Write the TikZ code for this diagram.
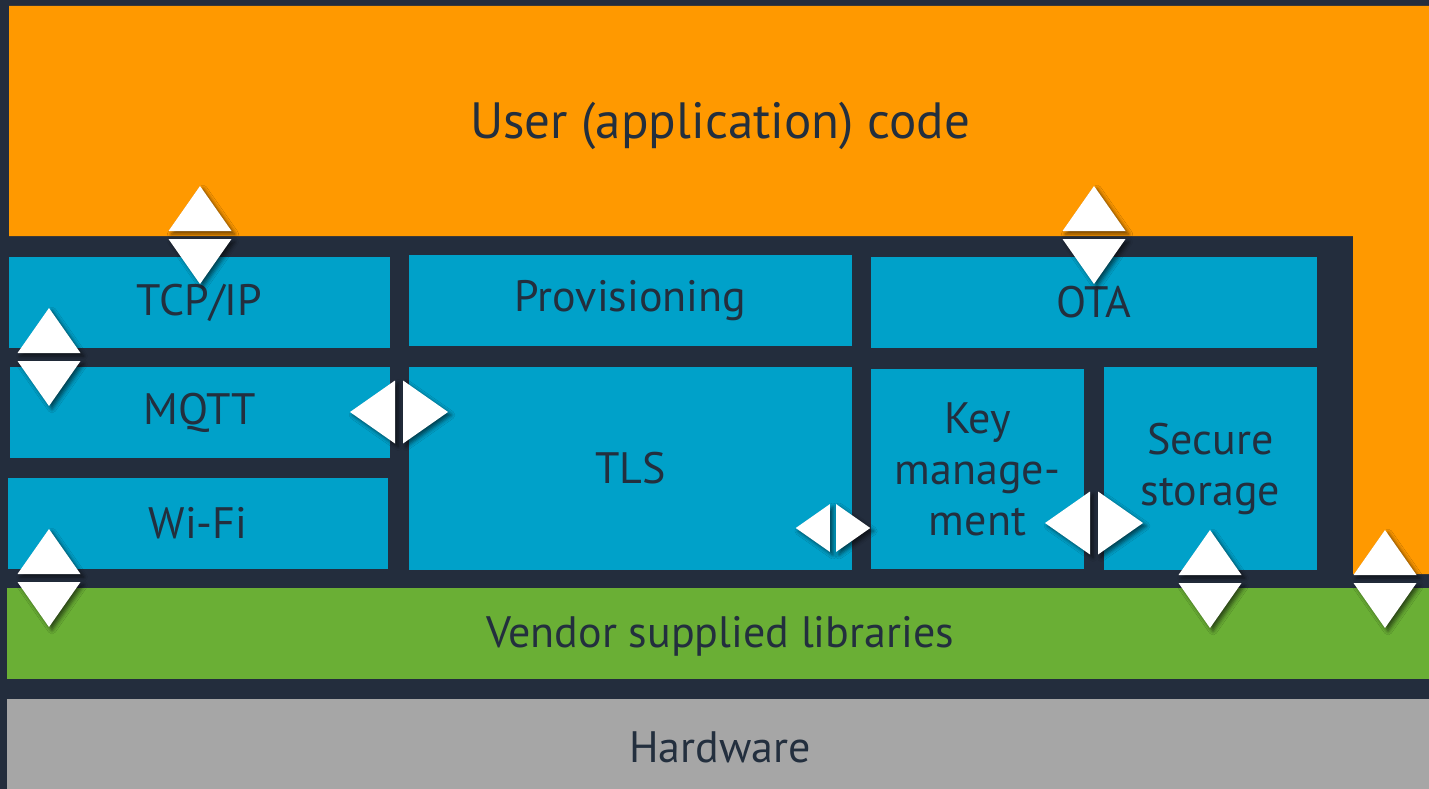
\documentclass[tikz,border=0pt]{standalone}
\usepackage{fontspec}
\setmainfont{PT Sans}
\usetikzlibrary{shadows.blur}

\definecolor{navy}{HTML}{232D3D}
\definecolor{awsorange}{HTML}{FF9900}
\definecolor{layerblue}{HTML}{00A1C9}
\definecolor{vendorgreen}{HTML}{6AAF35}
\definecolor{hwgray}{HTML}{A6A6A6}
\definecolor{ink}{HTML}{232F3E}

\tikzset{
  block/.style={fill=layerblue, draw=none, inner sep=0pt, text=ink,
    font=\fontsize{44}{51}\selectfont, align=center},
  layerlabel/.style={text=ink, inner sep=0pt, font=\fontsize{44}{51}\selectfont},
  tri/.style={fill=white, draw=none,
    blur shadow={shadow xshift=3pt, shadow yshift=-3pt,
      shadow blur radius=4pt, shadow opacity=60}},
  % a pair of triangles pointing up and down across a horizontal seam
  updown/.pic={
    \fill[tri] (-31.5,-4) -- (0,-49) -- (31.5,-4) -- cycle;
    \fill[tri] (-31.5,4) -- (31.5,4) -- (0,49) -- cycle;
  },
  % a pair of triangles pointing left and right across a vertical seam
  leftright/.pic={
    \fill[tri] (-4,-31.5) -- (-49,0) -- (-4,31.5) -- cycle;
    \fill[tri] (4,-31.5) -- (49,0) -- (4,31.5) -- cycle;
  }
}

\begin{document}
\begin{tikzpicture}[x=1pt, y=-1pt]
  % canvas
  \fill[navy] (0,0) rectangle (1429,789);
  \useasboundingbox (0,0) rectangle (1429,789);

  % application layer wrapping round the middleware
  \fill[awsorange] (9,6) -- (1429,6) -- (1429,574) -- (1353,574)
    -- (1353,236) -- (9,236) -- cycle;
  \node[text=ink, inner sep=0pt, font=\fontsize{51}{60}\selectfont]
    (user) at (720,126) {User (application) code};

  % vendor and hardware layers
  \fill[vendorgreen] (7,588) rectangle (1429,679);
  \node[layerlabel] (vendor) at (720,636) {Vendor supplied libraries};
  \fill[hwgray] (7,699) rectangle (1429,789);
  \node[layerlabel] (hw) at (720,747) {Hardware};

  % middleware blocks
  \node[block, minimum width=381pt, minimum height=91pt] (tcp)  at (199.5,302.5) {TCP/IP};
  \node[block, minimum width=380pt, minimum height=91pt] (mqtt) at (200,412.5) {MQTT};
  \node[block, minimum width=380pt, minimum height=91pt] (wifi) at (198,523.5) {Wi-Fi};
  \node[block, minimum width=443pt, minimum height=91pt] (prov) at (630.5,300.5) {Provisioning};
  \node[block, minimum width=443pt, minimum height=203pt] (tls) at (630.5,468.5) {TLS};
  \node[block, minimum width=446pt, minimum height=91pt] (ota)  at (1094,302.5) {OTA};
  \node[block, minimum width=213pt, minimum height=200pt] (key) at (977.5,469) {Key\\manage-\\ment};
  \node[block, minimum width=213pt, minimum height=203pt] (sec) at (1210.5,468.5) {Secure\\storage};

  % interface markers
  \pic at (200,235) {updown};
  \pic at (1094,235) {updown};
  \pic at (49,357) {updown};
  \pic at (49,578) {updown};
  \pic at (1210,579) {updown};
  \pic at (1385,579) {updown};
  \pic at (399,412) {leftright};
  \pic[scale=0.76] at (833,528) {leftright};
  \pic at (1094,523) {leftright};
\end{tikzpicture}
\end{document}
